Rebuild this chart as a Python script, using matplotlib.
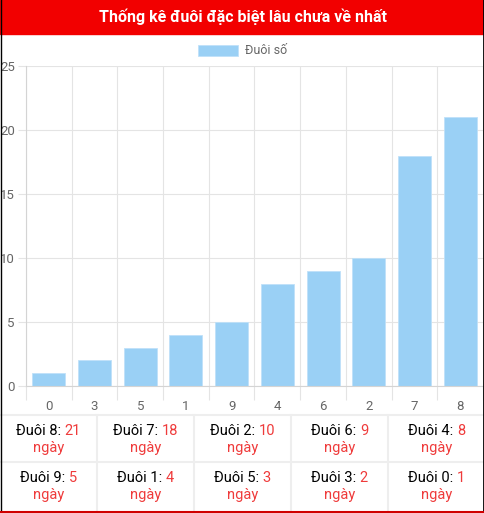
import matplotlib.pyplot as plt
from matplotlib.patches import Rectangle
from matplotlib.lines import Line2D

plt.rcParams['font.family'] = ['Roboto', 'DejaVu Sans']

title = 'Thống kê đuôi đặc biệt lâu chưa về nhất'
series_name = 'Đuôi số'
tails = ['0', '3', '5', '1', '9', '4', '6', '2', '7', '8']
days = [1, 2, 3, 4, 5, 8, 9, 10, 18, 21]
y_ticks = [0, 5, 10, 15, 20, 25]

# table below the chart: longest first
table_tails = ['8', '7', '2', '6', '4', '9', '1', '5', '3', '0']
table_days = [21, 18, 10, 9, 8, 5, 4, 3, 2, 1]

W, H = 485, 513
BAR = '#9ad0f5'
GRID = '#e4e4e4'
RED = '#ef3b3b'

fig = plt.figure(figsize=(W / 100, H / 100), dpi=100)


def fx(px):
    return px / W


def fy(py):
    return 1 - py / H


# title bar
fig.patches.append(Rectangle((0, fy(34)), 1, 34 / H, transform=fig.transFigure,
                             color='#f20000', zorder=0))
fig.text(0.5, fy(17), title, color='white', fontsize=11.5, fontweight='bold',
         ha='center', va='center')

# chart
ax = fig.add_axes([fx(26), fy(386), fx(483 - 26), (386 - 66) / H])
x = list(range(len(tails)))
bars = ax.bar(x, days, width=0.72, color=BAR, edgecolor='#bfe1f9', linewidth=0.6,
              label=series_name, zorder=2)
ax.set_xlim(-0.5, len(tails) - 0.5)
ax.set_ylim(0, 25)
ax.set_yticks(y_ticks)
ax.set_xticks(x)
ax.set_xticklabels(tails)
ax.set_xticks([i - 0.5 for i in range(len(tails) + 1)], minor=True)
ax.tick_params(axis='x', which='major', length=0, pad=10, labelsize=9.5, labelcolor='#666666')
ax.tick_params(axis='x', which='minor', length=10, color=GRID, width=0.8)
ax.tick_params(axis='y', length=6, color=GRID, width=0.8, pad=2, labelsize=9.5,
               labelcolor='#666666')
ax.grid(True, which='minor', axis='x', color=GRID, linewidth=0.8, zorder=0)
ax.grid(True, which='major', axis='y', color=GRID, linewidth=0.8, zorder=0)
for s in ['top', 'right']:
    ax.spines[s].set_visible(False)
for s in ['left', 'bottom']:
    ax.spines[s].set_color('#d4d4d4')
    ax.spines[s].set_linewidth(0.8)
ax.set_axisbelow(True)

fig.legend(handles=[bars], labels=[series_name], loc='center', bbox_to_anchor=(0.5, fy(51)),
           frameon=False, fontsize=9, labelcolor='#666666', handlelength=3.2,
           handleheight=0.95, handletextpad=0.5)

# table
col_x = [0, 97, 194, 291, 388, 485]
row_y = [415, 462, 510]
for yy in row_y[:2]:
    fig.lines.append(Line2D([0, 1], [fy(yy), fy(yy)], transform=fig.transFigure,
                            color='#eeeeee', linewidth=1.5))
for xx in col_x[1:-1]:
    fig.lines.append(Line2D([fx(xx), fx(xx)], [fy(row_y[0]), fy(row_y[2])],
                            transform=fig.transFigure, color='#eeeeee', linewidth=1.5))

renderer = fig.canvas.get_renderer()
for i, (t, d) in enumerate(zip(table_tails, table_days)):
    r, c = divmod(i, 5)
    cx = (col_x[c] + col_x[c + 1]) / 2
    top = row_y[r]
    ty = top + 16
    full = fig.text(fx(cx), fy(ty), f'Đuôi {t}: {d}', fontsize=10.5, ha='center',
                    va='center', alpha=0)
    bb = full.get_window_extent(renderer)
    fig.text(bb.x0 / W, fy(ty), f'Đuôi {t}: ', fontsize=10.5, ha='left', va='center',
             color='black')
    fig.text(bb.x1 / W, fy(ty), str(d), fontsize=10.5, ha='right', va='center', color=RED)
    fig.text(fx(cx), fy(top + 33), 'ngày', fontsize=10.5, ha='center', va='center', color=RED)

# outer border
fig.lines.append(Line2D([fx(0.5), fx(0.5)], [0, 1], transform=fig.transFigure,
                        color='black', linewidth=1))
fig.lines.append(Line2D([fx(484), fx(484)], [0, 1], transform=fig.transFigure,
                        color='black', linewidth=2))
fig.lines.append(Line2D([0, 1], [fy(511.5), fy(511.5)], transform=fig.transFigure,
                        color='#d00000', linewidth=1.5))

fig.savefig('out.png', dpi=100)
